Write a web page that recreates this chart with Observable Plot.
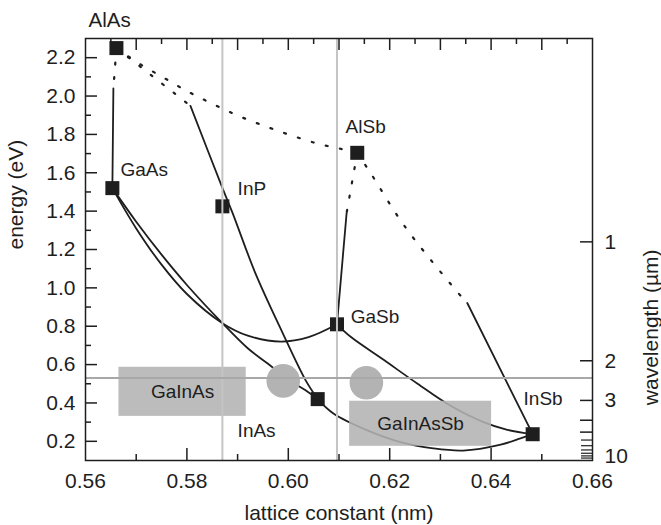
<!DOCTYPE html>
<html>
<head>
<meta charset="utf-8">
<script src="https://cdn.jsdelivr.net/npm/d3@7"></script>
<script src="https://cdn.jsdelivr.net/npm/@observablehq/plot@0.6"></script>
<style>
  html, body { margin: 0; padding: 0; background: #fff; }
</style>
</head>
<body>
<div id="chart"></div>
<script>
// ---------- data (lattice constant in nm, energy in eV) ----------
const compounds = ["AlAs", "GaAs", "InP", "AlSb", "GaSb", "InAs", "InSb"];
const latticeNm = [0.5661, 0.5653, 0.5870, 0.6136, 0.6096, 0.6058, 0.6482];
const gapEv     = [2.25,   1.52,   1.425,  1.704,  0.81,   0.42,   0.237];

// solid (direct gap) branches
const alGaAsA = [0.5655, 0.5653];
const alGaAsE = [2.04, 1.52];
const alInAsA = [0.5807, 0.5870, 0.5890, 0.5935, 0.5989, 0.6034, 0.6058];
const alInAsE = [1.949, 1.521, 1.391, 1.077, 0.764, 0.519, 0.42];
const gaInAsA = [0.5653, 0.570, 0.575, 0.580, 0.587, 0.592, 0.596, 0.600, 0.6034, 0.6058];
const gaInAsE = [1.52, 1.345, 1.173, 1.015, 0.816, 0.685, 0.604, 0.521, 0.466, 0.42];
const gaAsSbA = [0.5653, 0.570, 0.575, 0.580, 0.587, 0.592, 0.5985, 0.604, 0.6096];
const gaAsSbE = [1.52, 1.31, 1.121, 0.968, 0.816, 0.751, 0.72, 0.743, 0.81];
const alGaSbA = [0.6115, 0.6096];
const alGaSbE = [1.39, 0.81];
const alInSbA = [0.6353, 0.6482];
const alInSbE = [0.921, 0.237];
const gaInSbA = [0.6096, 0.6123, 0.6188, 0.6255, 0.632, 0.6385, 0.6432, 0.6482];
const gaInSbE = [0.81, 0.745, 0.625, 0.500, 0.385, 0.300, 0.260, 0.237];
const inAsSbA = [0.6058, 0.6089, 0.6156, 0.6221, 0.6286, 0.6345, 0.6419, 0.6458, 0.6482];
const inAsSbE = [0.42, 0.345, 0.257, 0.196, 0.163, 0.152, 0.183, 0.215, 0.237];

// dotted (indirect gap) branches
const alGaAsDotA = [0.5661, 0.5655];
const alGaAsDotE = [2.25, 2.04];
const alInAsDotA = [0.5661, 0.5807];
const alInAsDotE = [2.25, 1.949];
const alAsSbDotA = [0.5661, 0.5703, 0.5754, 0.5803, 0.5854, 0.5906, 0.5957, 0.6008, 0.6059, 0.6103, 0.6136];
const alAsSbDotE = [2.25, 2.174, 2.096, 2.022, 1.955, 1.892, 1.840, 1.793, 1.751, 1.725, 1.704];
const alGaSbDotA = [0.6136, 0.6115];
const alGaSbDotE = [1.704, 1.39];
const alInSbDotA = [0.6136, 0.6162, 0.6229, 0.6332, 0.6353];
const alInSbDotE = [1.704, 1.60, 1.323, 0.983, 0.921];

// shaded regions
const regionNames = ["GaInAs", "GaInAsSb"];
const regionA1 = [0.5666, 0.6121];
const regionA2 = [0.5917, 0.6401];
const regionE1 = [0.33, 0.174];
const regionE2 = [0.586, 0.409];

// gray discs
const discA = [0.599, 0.6154];
const discE = [0.515, 0.505];

// reference line energy
const refEnergy = 0.53;

// compound label anchors
const labelText = ["GaAs", "InP", "AlSb", "GaSb", "InAs", "InSb"];
const labelA    = [0.5669, 0.5900, 0.6113, 0.6123, 0.5900, 0.6464];
const labelE    = [1.584, 1.485, 1.808, 0.816, 0.221, 0.388];
const topLabel = "AlAs";
const topLabelA = 0.5606, topLabelE = 2.362;

// ticks
const xTickLabels   = [0.56, 0.58, 0.60, 0.62, 0.64, 0.66];
const xMajorBottom  = [0.58, 0.60, 0.62, 0.64];
const xMinorBottom  = [0.57, 0.59, 0.61, 0.63, 0.65];
const xMajorTop     = [0.57, 0.58, 0.59, 0.60, 0.61, 0.62, 0.63, 0.64, 0.65];
const xMinorTop     = [0.565, 0.575, 0.585, 0.595, 0.605, 0.615, 0.625, 0.635, 0.645, 0.655];
const yMajor        = [0.2, 0.4, 0.6, 0.8, 1.0, 1.2, 1.4, 1.6, 1.8, 2.0, 2.2];
const yMinor        = [0.3, 0.5, 0.7, 0.9, 1.1, 1.3, 1.5, 1.7, 1.9, 2.1];
const wlTicks       = [1, 2, 3, 4, 5];
const wlTicksSmall  = [6, 7, 8, 9, 10, 11];
const wlLabels      = [1, 2, 3, 10];
const hc = 1.2398; // eV·µm, wavelength -> energy

// ---------- build tables ----------
function rows(id, A, E) { return A.map((a, i) => ({id, a, e: E[i]})); }
const solidRows = [
  ...rows("AlGaAs", alGaAsA, alGaAsE),
  ...rows("AlInAs", alInAsA, alInAsE),
  ...rows("GaInAs", gaInAsA, gaInAsE),
  ...rows("GaAsSb", gaAsSbA, gaAsSbE),
  ...rows("AlGaSb", alGaSbA, alGaSbE),
  ...rows("AlInSb", alInSbA, alInSbE),
  ...rows("GaInSb", gaInSbA, gaInSbE),
  ...rows("InAsSb", inAsSbA, inAsSbE)
];
const dotRows = [
  ...rows("AlGaAs", alGaAsDotA, alGaAsDotE),
  ...rows("AlInAs", alInAsDotA, alInAsDotE),
  ...rows("AlAsSb", alAsSbDotA, alAsSbDotE),
  ...rows("AlGaSb", alGaSbDotA, alGaSbDotE),
  ...rows("AlInSb", alInSbDotA, alInSbDotE)
];
const pts = compounds.map((c, i) => ({c, a: latticeNm[i], e: gapEv[i]}));
const regions = regionNames.map((n, i) => ({n, a1: regionA1[i], a2: regionA2[i], e1: regionE1[i], e2: regionE2[i]}));
const discs = discA.map((a, i) => ({a, e: discE[i]}));
const labels = labelText.map((t, i) => ({t, a: labelA[i], e: labelE[i]}));

// ---------- layout ----------
const W = 661, H = 525;
const mt = 38, mr = 69, mb = 65, ml = 85;
const innerW = W - ml - mr, innerH = H - mt - mb;
const ink = "#1e1e1e";
const FONT = "'Liberation Sans', Arial, Helvetica, sans-serif";

const chart = Plot.plot({
  width: W, height: H,
  marginTop: mt, marginRight: mr, marginBottom: mb, marginLeft: ml,
  style: {fontFamily: FONT, fontSize: "21px", color: ink, background: "#fff", overflow: "visible"},
  x: {domain: [0.56, 0.66], axis: null},
  y: {domain: [0.1, 2.3], axis: null},
  marks: [
    // curves
    Plot.line(solidRows, {x: "a", y: "e", z: "id", curve: "catmull-rom", stroke: ink, strokeWidth: 1.8}),
    Plot.line(dotRows, {x: "a", y: "e", z: "id", curve: "catmull-rom", stroke: ink, strokeWidth: 2.2, strokeDasharray: "2,12.5"}),
    // shaded regions & discs
    Plot.rect(regions, {x1: "a1", x2: "a2", y1: "e1", y2: "e2", fill: "#b3b3b3", fillOpacity: 0.88}),
    Plot.dot(discs, {x: "a", y: "e", r: 16.8, fill: "#b3b3b3"}),
    // compound squares
    Plot.dot(pts, {x: "a", y: "e", symbol: "square", r: 7.9, fill: ink}),
    // gray reference lines
    Plot.ruleX([latticeNm[2], latticeNm[4]], {stroke: "#c4c4c4", strokeWidth: 2}),
    Plot.ruleY([refEnergy], {stroke: "#a8a8a8", strokeWidth: 2}),
    // tick marks (inward)
    Plot.tickX(xMajorBottom, {x: d => d, insetTop: innerH - 12, stroke: ink, strokeWidth: 1.5}),
    Plot.tickX(xMinorBottom, {x: d => d, insetTop: innerH - 6, stroke: ink, strokeWidth: 1.5}),
    Plot.tickX(xMajorTop, {x: d => d, insetBottom: innerH - 12, stroke: ink, strokeWidth: 1.5}),
    Plot.tickX(xMinorTop, {x: d => d, insetBottom: innerH - 6, stroke: ink, strokeWidth: 1.5}),
    Plot.tickY(yMajor, {y: d => d, insetRight: innerW - 12, stroke: ink, strokeWidth: 1.5}),
    Plot.tickY(yMinor, {y: d => d, insetRight: innerW - 6, stroke: ink, strokeWidth: 1.5}),
    Plot.tickY(wlTicks, {y: d => hc / d, insetLeft: innerW - 12, stroke: ink, strokeWidth: 1.5}),
    Plot.tickY(wlTicksSmall, {y: d => hc / d, insetLeft: innerW - 11, stroke: ink, strokeWidth: 1.2}),
    Plot.frame({stroke: ink, strokeWidth: 1.5}),
    // tick labels
    Plot.axisX({ticks: xTickLabels, anchor: "bottom", tickSize: 0, tickPadding: 13, fontSize: 21, tickFormat: d3.format(".2f"), label: null}),
    Plot.axisY({ticks: yMajor, anchor: "left", tickSize: 0, tickPadding: 10, fontSize: 21, tickFormat: d3.format(".1f"), label: null}),
    Plot.text(wlLabels, {y: d => hc / d, text: d => String(d), frameAnchor: "right", dx: 12, textAnchor: "start", fontSize: 21, fill: ink}),
    // axis titles
    Plot.text(["lattice constant (nm)"], {frameAnchor: "bottom", dy: 59, lineAnchor: "bottom", fontSize: 21, fill: ink}),
    Plot.text(["energy (eV)"], {frameAnchor: "left", dx: -63, rotate: -90, lineAnchor: "bottom", fontSize: 21, fill: ink}),
    Plot.text(["wavelength (µm)"], {frameAnchor: "right", dx: 65, rotate: -90, lineAnchor: "bottom", fontSize: 21, fill: ink}),
    // compound labels
    Plot.text(labels, {x: "a", y: "e", text: "t", textAnchor: "start", lineAnchor: "bottom", fontSize: 19, fill: ink}),
    Plot.text([topLabel], {x: () => topLabelA, y: () => topLabelE, text: d => d, textAnchor: "start", lineAnchor: "bottom", fontSize: 20.5, fill: ink}),
    Plot.text(regions, {x: d => (d.a1 + d.a2) / 2, y: d => (d.e1 + d.e2) / 2, text: "n", fontSize: 19, fill: ink})
  ]
});
document.getElementById("chart").appendChild(chart);
</script>
</body>
</html>
